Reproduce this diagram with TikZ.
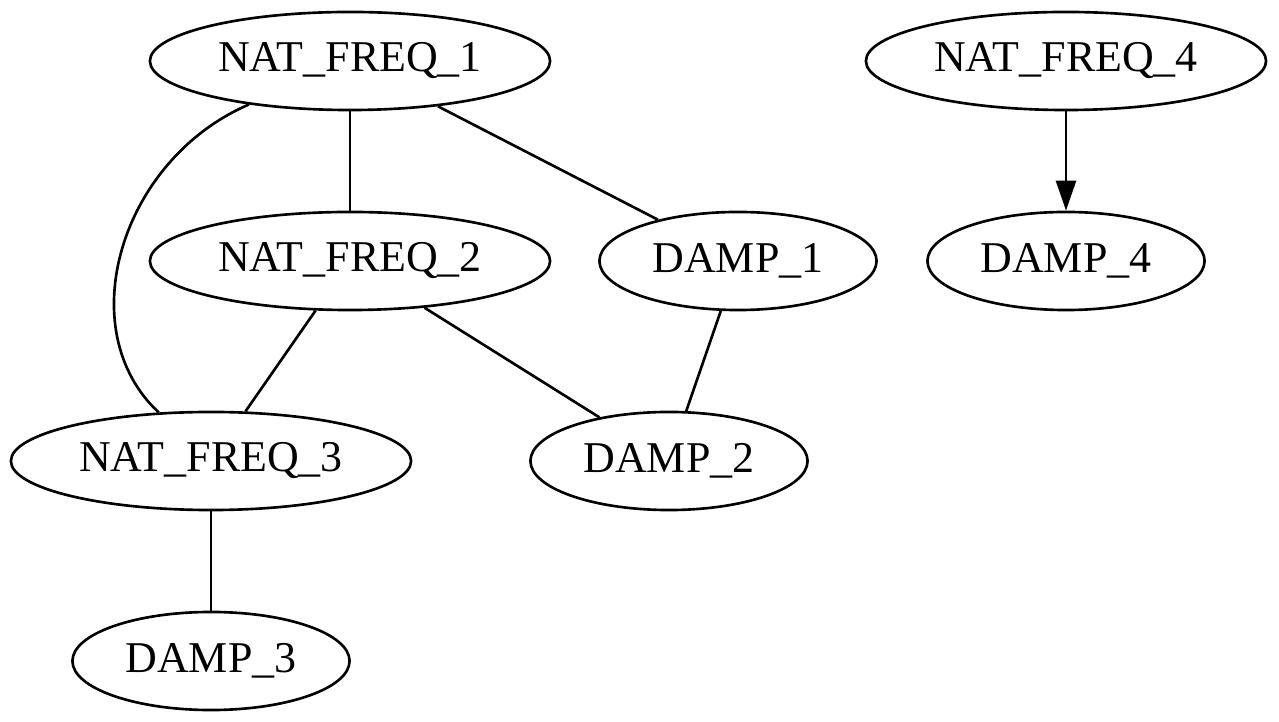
\documentclass[tikz,border=0pt]{standalone}
\usepackage{fontspec}
\setmainfont{Liberation Serif}
\usetikzlibrary{shapes.geometric,arrows.meta}
\tikzset{
  var/.style={draw,ellipse,line width=0.75pt,inner sep=0pt,minimum width=4cm,minimum height=0.98cm,font=\fontsize{12.5}{14}\selectfont},
  damp/.style={var,minimum width=2.77cm},
  link/.style={line width=0.75pt},
}
\begin{document}
\begin{tikzpicture}[>={Triangle[length=3mm,width=2mm]},x=0.01cm,y=-0.01cm]
  \useasboundingbox (0,0) rectangle (1279,722);
  % natural frequencies
  \node[var] (nf1) at (350,61) {NAT\_FREQ\_1};
  \node[var] (nf2) at (350,261) {NAT\_FREQ\_2};
  \node[var] (nf3) at (211,461) {NAT\_FREQ\_3};
  \node[var] (nf4) at (1066,61) {NAT\_FREQ\_4};
  % dampings
  \node[damp] (d1) at (738,261) {DAMP\_1};
  \node[damp] (d2) at (669,461) {DAMP\_2};
  \node[damp] (d3) at (211,661) {DAMP\_3};
  \node[damp] (d4) at (1066,261) {DAMP\_4};
  % undirected links
  \draw[link] (nf1) -- (nf2);
  \draw[link] (nf1) -- (d1);
  \draw[link] (nf1) .. controls (120,160) and (70,330) .. (nf3);
  \draw[link] (nf2) -- (nf3);
  \draw[link] (nf2) -- (d2);
  \draw[link] (d1) -- (d2);
  \draw[link] (nf3) -- (d3);
  % directed link
  \draw[link,->] (nf4) -- (d4);
\end{tikzpicture}
\end{document}
